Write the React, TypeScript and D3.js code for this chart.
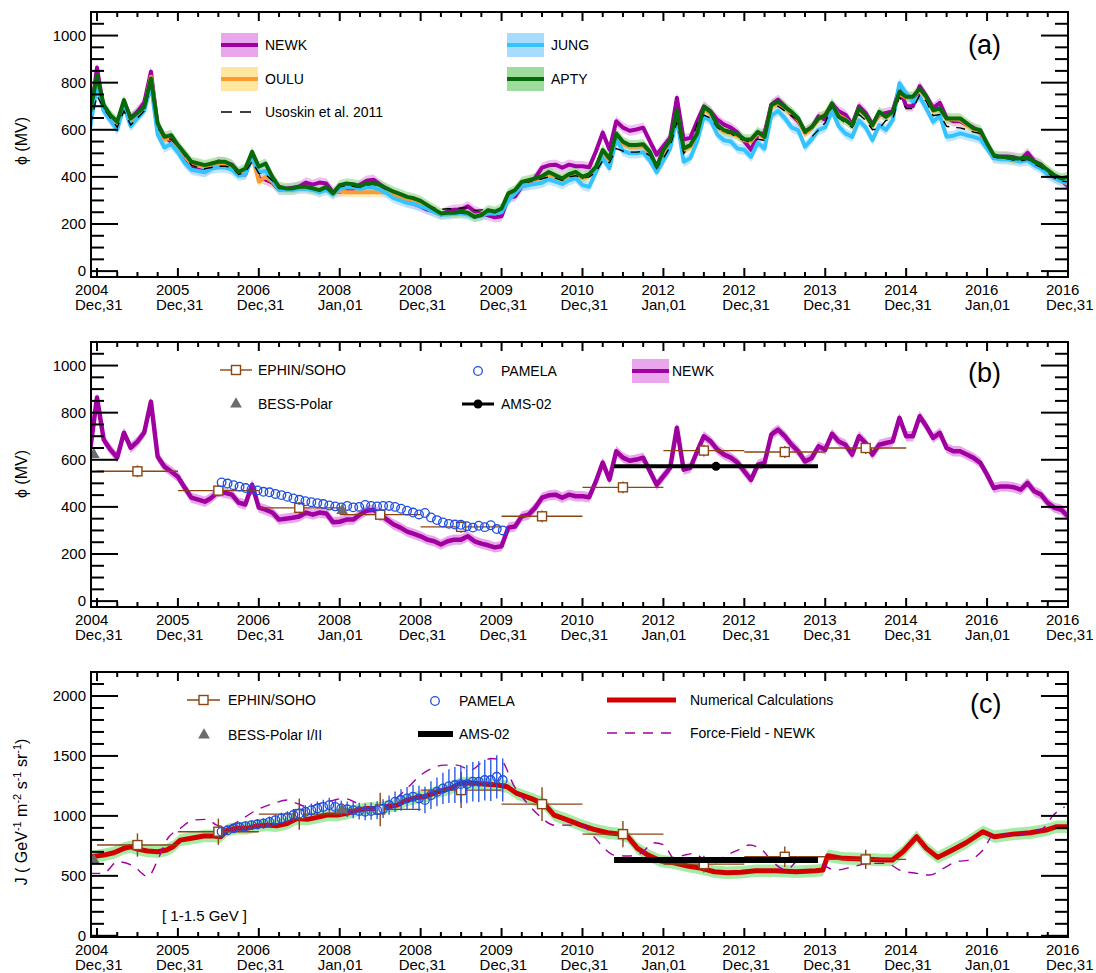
import React from "react";
import * as d3 from "d3";

const W = 1096;
const H = 973;
const LEFT = 91;
const RIGHT = 1068;
const PH = 265;
const FONT = "'Liberation Sans', Arial, Helvetica, sans-serif";

// monthly values, Dec 2004 .. Jan 2017
const MONTH0 = 2004 + 11 / 12;
const newk = [
  645, 864, 685, 643, 609, 715, 651, 677, 715, 847, 613, 571,
  550, 528, 482, 439, 431, 422, 439, 465, 460, 452, 418, 410,
  494, 397, 388, 376, 346, 350, 354, 359, 376, 367, 376, 372,
  335, 337, 346, 346, 367, 384, 388, 367, 346, 325, 312, 295,
  285, 275, 261, 254, 240, 254, 261, 261, 275, 254, 244, 237,
  228, 233, 312, 317, 360, 367, 397, 439, 449, 452, 439, 452,
  445, 445, 441, 509, 588, 516, 636, 609, 596, 601, 609, 551,
  494, 530, 566, 736, 558, 566, 636, 700, 678, 643, 622, 609,
  588, 551, 515, 579, 587, 707, 728, 700, 664, 636, 593, 608,
  657, 643, 710, 678, 664, 622, 700, 671, 622, 664, 671, 678,
  778, 700, 700, 785, 742, 693, 714, 650, 636, 636, 622, 608,
  587, 537, 480, 487, 487, 483, 473, 502, 466, 452, 417, 396,
  388, 360,
];
const apty = [
  676, 832, 705, 662, 634, 726, 648, 672, 697, 818, 627, 570,
  577, 535, 500, 464, 457, 450, 457, 464, 464, 450, 421, 436,
  506, 443, 457, 400, 358, 351, 351, 358, 358, 351, 344, 358,
  330, 365, 372, 369, 361, 372, 375, 365, 351, 337, 327, 315,
  309, 298, 280, 262, 245, 248, 248, 252, 248, 230, 238, 259,
  252, 266, 330, 344, 379, 386, 393, 403, 421, 407, 393, 412,
  421, 400, 412, 443, 514, 478, 584, 549, 535, 535, 539, 506,
  443, 514, 556, 683, 521, 535, 584, 697, 676, 620, 598, 591,
  580, 560, 559, 591, 570, 705, 719, 697, 676, 648, 591, 612,
  648, 662, 712, 655, 641, 620, 691, 662, 620, 676, 655, 676,
  761, 740, 740, 775, 740, 683, 691, 648, 648, 648, 627, 606,
  598, 542, 492, 485, 483, 478, 478, 485, 464, 450, 429, 407,
  393, 400,
];
const jung = [
  610, 790, 680, 640, 600, 700, 615, 650, 680, 790, 580, 525,
  540, 505, 460, 430, 425, 420, 435, 440, 440, 430, 405, 410,
  480, 420, 425, 385, 345, 345, 345, 350, 350, 345, 335, 345,
  325, 350, 355, 355, 350, 355, 355, 345, 330, 310, 300, 290,
  285, 275, 265, 250, 240, 240, 245, 245, 240, 230, 235, 245,
  245, 250, 300, 330, 360, 365, 370, 375, 390, 380, 370, 385,
  395, 365, 358, 420, 480, 437, 560, 510, 500, 500, 505, 470,
  420, 470, 520, 650, 464, 480, 550, 655, 640, 580, 555, 550,
  520, 515, 485, 545, 520, 660, 680, 650, 610, 598, 528, 560,
  600, 610, 680, 615, 584, 570, 640, 610, 556, 620, 600, 640,
  797, 754, 720, 740, 690, 634, 660, 570, 575, 585, 577, 570,
  560, 520, 480, 475, 475, 470, 465, 470, 450, 435, 410, 395,
  380, 375,
];
const oulu = [
  650, 815, 695, 655, 625, 715, 640, 665, 690, 825, 615, 560,
  565, 525, 490, 455, 450, 445, 450, 455, 455, 445, 415, 430,
  490, 380, 400, 380, 350, 345, 345, 350, 352, 345, 340, 350,
  330, 340, 335, 335, 335, 335, 335, 335, 335, 325, 315, 305,
  300, 290, 275, 260, 245, 245, 245, 248, 245, 235, 240, 250,
  245, 255, 320, 340, 375, 380, 388, 398, 412, 400, 388, 405,
  412, 395, 405, 435, 505, 470, 575, 540, 528, 528, 530, 500,
  440, 505, 550, 675, 515, 528, 578, 690, 668, 612, 592, 585,
  575, 555, 552, 585, 565, 700, 712, 690, 670, 642, 585, 608,
  645, 668, 705, 660, 645, 618, 685, 660, 615, 670, 655, 670,
  755, 735, 738, 770, 735, 680, 688, 645, 645, 642, 622, 600,
  592, 535, 488, 480, 478, 472, 470, 478, 458, 445, 422, 400,
  385, 370,
];
const usoskin = [
  620, 745, 690, 650, 610, 680, 620, 650, 680, 790, 610, 565,
  560, 530, 490, 450, 440, 435, 440, 445, 445, 440, 410, 420,
  465, 415, 410, 385, 350, 350, 352, 355, 355, 348, 340, 352,
  330, 358, 362, 360, 355, 365, 368, 360, 348, 335, 325, 315,
  305, 295, 280, 268, 262, 265, 265, 268, 270, 258, 260, 262,
  255, 262, 320, 345, 375, 378, 385, 392, 400, 395, 385, 400,
  405, 395, 400, 420, 470, 460, 520, 510, 505, 505, 508, 490,
  436, 480, 528, 634, 500, 528, 627, 662, 650, 610, 590, 585,
  565, 555, 548, 560, 555, 690, 700, 680, 660, 640, 590, 570,
  600, 630, 700, 650, 630, 610, 665, 640, 600, 605, 640, 645,
  740, 690, 690, 747, 720, 660, 665, 615, 610, 608, 600, 590,
  585, 535, 485, 478, 478, 470, 468, 475, 455, 440, 418, 395,
  382, 380,
];
const months = newk.map((_, i) => MONTH0 + i / 12);

// EPHIN/SOHO yearly points
const ephinT = [2005.5, 2006.5, 2007.5, 2008.5, 2009.5, 2010.5, 2011.5, 2012.5, 2013.5, 2014.5];
const ephinPhi = [551, 469, 396, 367, 315, 360, 483, 639, 633, 650];
const ephinJ = [757, 868, 1015, 1054, 1215, 1098, 848, 598, 659, 637];
const ephinJErr = [97, 110, 130, 140, 150, 140, 110, 70, 85, 80];

// PAMELA, one point per Bartels rotation
const PAMELA_START = 2006.54;
const BARTELS = 27 / 365.25;
const pamelaPhi = [
  504, 499, 492, 486, 480, 474, 470, 464, 462, 455,
  450, 443, 436, 430, 424, 420, 416, 412, 406, 402,
  398, 404, 398, 400, 408, 404, 402, 404, 404, 400,
  392, 384, 376, 368, 374, 355, 344, 334, 328, 325,
  324, 318, 312, 320, 314, 322, 306, 300,
];
const pamelaJ = [
  868, 880, 896, 905, 915, 923, 930, 937, 950, 965,
  979, 990, 1007, 1020, 1034, 1048, 1062, 1075, 1090, 1075,
  1062, 1055, 1048, 1040, 1034, 1040, 1048, 1060, 1090, 1118,
  1132, 1146, 1160, 1146, 1132, 1173, 1201, 1229, 1248, 1257,
  1265, 1265, 1285, 1285, 1299, 1299, 1326, 1299,
];
const pamelaJErr = [
  35, 35, 38, 38, 40, 40, 42, 42, 45, 45,
  48, 48, 50, 52, 55, 55, 58, 60, 62, 62,
  65, 65, 68, 70, 70, 72, 75, 78, 80, 85,
  90, 95, 100, 105, 110, 115, 120, 130, 140, 150,
  155, 160, 165, 170, 170, 175, 180, 180,
];
const pamelaT = pamelaPhi.map((_, k) => PAMELA_START + k * BARTELS);

const bessT = [2004.96, 2008.03];
const bessPhi = [622, 384];
const bessJ = [632, 1048];

const amsFrom = 2011.39;
const amsTo = 2013.91;
const amsT = 2012.65;
const amsPhi = 572;
const amsJ = 632;

// panel (c) curves
const calcT = [
  2004.917, 2005.083, 2005.208, 2005.333, 2005.417, 2005.5, 2005.625, 2005.75, 2005.86, 2005.94,
  2006.03, 2006.15, 2006.32, 2006.44, 2006.53, 2006.61, 2006.72, 2006.85, 2006.97,
  2007.1, 2007.22, 2007.35, 2007.47, 2007.6, 2007.72, 2007.84, 2007.97,
  2008.09, 2008.22, 2008.34, 2008.46, 2008.58, 2008.71, 2008.83, 2008.96,
  2009.04, 2009.21, 2009.37, 2009.49, 2009.62, 2009.78, 2009.95,
  2010.07, 2010.19, 2010.36, 2010.53, 2010.65, 2010.82, 2010.98,
  2011.14, 2011.31, 2011.47, 2011.56, 2011.68, 2011.81, 2011.97,
  2012.13, 2012.3, 2012.47, 2012.63, 2012.79, 2012.96,
  2013.14, 2013.39, 2013.64, 2013.88, 2013.97,
  2014.03, 2014.22, 2014.47, 2014.71, 2014.83, 2014.96,
  2015.13, 2015.25, 2015.39, 2015.53, 2015.74, 2015.95,
  2016.09, 2016.32, 2016.53, 2016.73, 2016.86, 2017.0,
];
const calcJ = [
  659, 673, 693, 729, 743, 723, 707, 701, 715, 743,
  798, 812, 832, 832, 826, 882, 896, 896, 915,
  923, 918, 937, 979, 971, 988, 1007, 1007,
  1021, 1048, 1062, 1062, 1076, 1090, 1132, 1154,
  1159, 1201, 1229, 1271, 1276, 1265, 1257,
  1243, 1187, 1146, 1098, 1007, 965, 923,
  887, 859, 848, 826, 729, 673, 623,
  609, 582, 562, 534, 526, 530,
  543, 543, 534, 543, 548,
  668, 646, 640, 632, 632, 701,
  826, 729, 654, 701, 776, 868,
  826, 848, 859, 882, 910, 910,
];
const ffT = [
  2004.917, 2005.083, 2005.25, 2005.45, 2005.63, 2005.75, 2005.86,
  2006.03, 2006.19, 2006.36, 2006.48, 2006.61, 2006.77, 2006.97,
  2007.18, 2007.35, 2007.47, 2007.6, 2007.76, 2007.93,
  2008.05, 2008.22, 2008.38, 2008.54, 2008.67, 2008.83,
  2009.0, 2009.12, 2009.29, 2009.45, 2009.62, 2009.74, 2009.87, 2009.99,
  2010.16, 2010.32, 2010.48, 2010.65, 2010.82, 2010.98,
  2011.14, 2011.27, 2011.39, 2011.56, 2011.72, 2011.88,
  2012.01, 2012.13, 2012.26, 2012.38, 2012.51, 2012.63, 2012.75, 2012.92,
  2013.06, 2013.22, 2013.35, 2013.52, 2013.68, 2013.88,
  2014.01, 2014.13, 2014.34, 2014.55, 2014.76, 2014.92,
  2015.13, 2015.29, 2015.46, 2015.62, 2015.78, 2015.95,
  2016.08, 2016.28, 2016.48, 2016.69, 2016.82, 2016.96,
];
const ffJ = [
  521, 521, 618, 582, 495, 632, 798,
  896, 965, 971, 923, 910, 965, 1048,
  1104, 1132, 1104, 1076, 1104, 1132,
  1146, 1104, 1048, 1076, 1132, 1229,
  1340, 1390, 1423, 1423, 1382, 1437, 1479, 1465,
  1243, 1104, 993, 923, 923, 923,
  826, 729, 673, 665, 687, 776,
  757, 646, 673, 687, 632, 609, 659, 715,
  757, 715, 618, 548, 632, 632,
  576, 548, 576, 604, 604, 548,
  521, 507, 562, 618, 632, 715,
  840, 840, 854, 896, 1007, 1076,
];

const tickYears = d3.range(2005, 2018);
const tickLabels = [
  ["2004", "Dec,31"], ["2005", "Dec,31"], ["2006", "Dec,31"], ["2008", "Jan,01"],
  ["2008", "Dec,31"], ["2009", "Dec,31"], ["2010", "Dec,31"], ["2012", "Jan,01"],
  ["2012", "Dec,31"], ["2013", "Dec,31"], ["2014", "Dec,31"], ["2016", "Jan,01"],
  ["2016", "Dec,31"],
];

const C = {
  newkLine: "#a000a0", newkBand: "#eaa6ec",
  ouluLine: "#ff9a30", ouluBand: "#ffe7a0",
  jungLine: "#33c4ff", jungBand: "#a8dcff",
  aptyLine: "#08690a", aptyBand: "#9edc9e",
  ephin: "#8b4513", pamela: "#1f4fe0", bess: "#6b6b6b",
  calc: "#d20000", calcBand: "#a6eca6", ff: "#a000a0",
};

const TOPS = [12, 342, 672];
const x = d3.scaleLinear().domain([2004.926, 2017]).range([LEFT, RIGHT]);
const yA = d3.scaleLinear().domain([-25, 1100]).range([TOPS[0] + PH, TOPS[0]]);
const yB = d3.scaleLinear().domain([-25, 1100]).range([TOPS[1] + PH, TOPS[1]]);
const yC = d3.scaleLinear().domain([-10, 2200]).range([TOPS[2] + PH, TOPS[2]]);

function linePath(vals: number[], ts: number[], y: any, curve: any = d3.curveLinear) {
  return d3.line<number>().curve(curve).x((_, i) => x(ts[i])).y((d) => y(d))(vals) || "";
}
function bandPath(vals: number[], ts: number[], y: any, hw: number) {
  return d3.area<number>().x((_, i) => x(ts[i])).y0((d) => y(d - hw)).y1((d) => y(d + hw))(vals) || "";
}

function Axes({ top, y, majors, minors }: any) {
  const bottom = top + PH;
  const xMin = d3.range(2005, 2017, 0.25).filter((v) => v % 1 !== 0);
  return (
    <g>
      <g stroke="#000" strokeWidth={2} fill="none">
        {tickYears.map((v) => (
          <g key={"xm" + v}>
            <line x1={x(v)} x2={x(v)} y1={bottom} y2={bottom - 9} />
            <line x1={x(v)} x2={x(v)} y1={top} y2={top + 9} />
          </g>
        ))}
        {xMin.map((v) => (
          <g key={"xn" + v}>
            <line x1={x(v)} x2={x(v)} y1={bottom} y2={bottom - 5} />
            <line x1={x(v)} x2={x(v)} y1={top} y2={top + 5} />
          </g>
        ))}
        {majors.map((v: number) => (
          <g key={"ym" + v}>
            <line x1={LEFT} x2={LEFT + 27} y1={y(v)} y2={y(v)} />
            <line x1={RIGHT} x2={RIGHT - 27} y1={y(v)} y2={y(v)} />
          </g>
        ))}
        {minors.map((v: number) => (
          <g key={"yn" + v}>
            <line x1={LEFT} x2={LEFT + 13} y1={y(v)} y2={y(v)} />
            <line x1={RIGHT} x2={RIGHT - 13} y1={y(v)} y2={y(v)} />
          </g>
        ))}
        <rect x={LEFT} y={top} width={RIGHT - LEFT} height={PH} />
      </g>
      <g fontSize={15} fill="#000">
        {majors.map((v: number) => (
          <text key={"yl" + v} x={86} y={y(v)} dy="0.35em" textAnchor="end">{v}</text>
        ))}
        {tickYears.map((v, k) => (
          <text key={"xl" + v} x={x(v) - 22} y={bottom + 18}>
            <tspan>{tickLabels[k][0]}</tspan>
            <tspan x={x(v) - 22} dy={15}>{tickLabels[k][1]}</tspan>
          </text>
        ))}
      </g>
    </g>
  );
}

const phiMajors = d3.range(0, 1001, 200);
const phiMinors = d3.range(0, 1101, 50).filter((v) => v % 200 !== 0);
const jMajors = d3.range(0, 2001, 500);
const jMinors = d3.range(0, 2201, 100).filter((v) => v % 500 !== 0);

function Swatch({ x0, yc, band, line }: any) {
  return (
    <g>
      <rect x={x0} y={yc - 12} width={37} height={24} fill={band} />
      <line x1={x0} x2={x0 + 37} y1={yc} y2={yc} stroke={line} strokeWidth={4} />
    </g>
  );
}

function Ephin({ y, vals, errs }: any) {
  return (
    <g stroke={C.ephin} strokeWidth={1.4}>
      {ephinT.map((t, k) => (
        <g key={"e" + k}>
          <line x1={x(t - 0.5)} x2={x(t + 0.5)} y1={y(vals[k])} y2={y(vals[k])} />
          <line x1={x(t)} x2={x(t)} y1={y(vals[k] - errs[k])} y2={y(vals[k] + errs[k])} />
          <rect x={x(t) - 4.5} y={y(vals[k]) - 4.5} width={9} height={9} fill="#fff" />
        </g>
      ))}
    </g>
  );
}

const tri = d3.symbol(d3.symbolTriangle, 60)() || "";

function PanelA() {
  const y = yA;
  const series = [
    { name: "NEWK", vals: newk, line: C.newkLine, band: C.newkBand },
    { name: "OULU", vals: oulu, line: C.ouluLine, band: C.ouluBand },
    { name: "JUNG", vals: jung, line: C.jungLine, band: C.jungBand },
  ];
  return (
    <g>
      <g clipPath="url(#clip0)">
        {series.map((s) => (
          <path key={s.name + "b"} d={bandPath(s.vals, months, y, 22)} fill={s.band} opacity={0.7} />
        ))}
        <path d={bandPath(apty, months, y, 22)} fill={C.aptyBand} opacity={0.7} />
        {series.map((s) => (
          <path key={s.name + "l"} d={linePath(s.vals, months, y)} fill="none" stroke={s.line} strokeWidth={4} strokeLinejoin="round" />
        ))}
        <path d={linePath(usoskin, months, y)} fill="none" stroke="#000" strokeWidth={1.4} strokeDasharray="9,7" />
        <path d={linePath(apty, months, y)} fill="none" stroke={C.aptyLine} strokeWidth={4} strokeLinejoin="round" />
      </g>
      <Axes top={TOPS[0]} y={y} majors={phiMajors} minors={phiMinors} />
      <g fontSize={14}>
        <Swatch x0={221} yc={45} band={C.newkBand} line={C.newkLine} />
        <text x={265} y={45} dy="0.35em">NEWK</text>
        <Swatch x0={221} yc={79} band={C.ouluBand} line={C.ouluLine} />
        <text x={265} y={79} dy="0.35em">OULU</text>
        <line x1={221} x2={258} y1={112} y2={112} stroke="#000" strokeWidth={1.4} strokeDasharray="11,8" />
        <text x={265} y={112} dy="0.35em">Usoskin et al. 2011</text>
        <Swatch x0={507} yc={45} band={C.jungBand} line={C.jungLine} />
        <text x={551} y={45} dy="0.35em">JUNG</text>
        <Swatch x0={507} yc={79} band={C.aptyBand} line={C.aptyLine} />
        <text x={551} y={79} dy="0.35em">APTY</text>
      </g>
      <text x={968} y={54} fontSize={27}>(a)</text>
      <text transform={`translate(27,141) rotate(-90)`} textAnchor="middle" fontSize={16}>ϕ (MV)</text>
    </g>
  );
}

function PanelB() {
  const y = yB;
  return (
    <g>
      <g clipPath="url(#clip1)">
        <path d={bandPath(newk, months, y, 22)} fill={C.newkBand} />
        <path d={linePath(newk, months, y)} fill="none" stroke={C.newkLine} strokeWidth={4.5} strokeLinejoin="round" />
        <Ephin y={y} vals={ephinPhi} errs={ephinPhi.map(() => 25)} />
        {pamelaT.map((t, k) => (
          <circle key={"p" + k} cx={x(t)} cy={y(pamelaPhi[k])} r={4.3} fill="none" stroke={C.pamela} strokeWidth={1.3} />
        ))}
        {bessT.map((t, k) => (
          <path key={"b" + k} d={tri} transform={`translate(${x(t)},${y(bessPhi[k])})`} fill={C.bess} />
        ))}
        <line x1={x(amsFrom)} x2={x(amsTo)} y1={y(amsPhi)} y2={y(amsPhi)} stroke="#000" strokeWidth={4} />
        <circle cx={x(amsT)} cy={y(amsPhi)} r={4.5} fill="#000" />
      </g>
      <Axes top={TOPS[1]} y={y} majors={phiMajors} minors={phiMinors} />
      <g fontSize={14}>
        <line x1={220} x2={252} y1={370} y2={370} stroke={C.ephin} strokeWidth={1.4} />
        <rect x={231.5} y={365.5} width={9} height={9} fill="#fff" stroke={C.ephin} strokeWidth={1.4} />
        <text x={258} y={370} dy="0.35em">EPHIN/SOHO</text>
        <path d={tri} transform="translate(236,404)" fill={C.bess} />
        <text x={258} y={404} dy="0.35em">BESS-Polar</text>
        <circle cx={478} cy={371} r={4.3} fill="none" stroke={C.pamela} strokeWidth={1.3} />
        <text x={501} y={371} dy="0.35em">PAMELA</text>
        <line x1={462} x2={494} y1={404} y2={404} stroke="#000" strokeWidth={3} />
        <circle cx={478} cy={404} r={4.5} fill="#000" />
        <text x={501} y={404} dy="0.35em">AMS-02</text>
        <Swatch x0={632} yc={371} band={C.newkBand} line={C.newkLine} />
        <text x={672} y={371} dy="0.35em">NEWK</text>
      </g>
      <text x={968} y={382} fontSize={27}>(b)</text>
      <text transform={`translate(27,474) rotate(-90)`} textAnchor="middle" fontSize={16}>ϕ (MV)</text>
    </g>
  );
}

function PanelC() {
  const y = yC;
  return (
    <g>
      <g clipPath="url(#clip2)">
        <path d={bandPath(calcJ, calcT, y, 52)} fill={C.calcBand} />
        <path d={linePath(calcJ, calcT, y)} fill="none" stroke={C.calc} strokeWidth={5} strokeLinejoin="round" />
        <path d={linePath(ffJ, ffT, y, d3.curveMonotoneX)} fill="none" stroke={C.ff} strokeWidth={1.4} strokeDasharray="10,8" />
        <Ephin y={y} vals={ephinJ} errs={ephinJErr} />
        <g stroke={C.pamela} strokeWidth={1.3} fill="none">
          {pamelaT.map((t, k) => (
            <g key={"pc" + k}>
              <line x1={x(t)} x2={x(t)} y1={y(pamelaJ[k] - pamelaJErr[k])} y2={y(pamelaJ[k] + pamelaJErr[k])} />
              <circle cx={x(t)} cy={y(pamelaJ[k])} r={4.3} />
            </g>
          ))}
        </g>
        {bessT.map((t, k) => (
          <path key={"bc" + k} d={tri} transform={`translate(${x(t)},${y(bessJ[k])})`} fill={C.bess} />
        ))}
        <line x1={x(amsFrom)} x2={x(amsTo)} y1={y(amsJ)} y2={y(amsJ)} stroke="#000" strokeWidth={6} />
      </g>
      <Axes top={TOPS[2]} y={y} majors={jMajors} minors={jMinors} />
      <g fontSize={14}>
        <line x1={187} x2={220} y1={700} y2={700} stroke={C.ephin} strokeWidth={1.4} />
        <rect x={199} y={695.5} width={9} height={9} fill="#fff" stroke={C.ephin} strokeWidth={1.4} />
        <text x={228} y={700} dy="0.35em">EPHIN/SOHO</text>
        <path d={tri} transform="translate(204,735)" fill={C.bess} />
        <text x={228} y={735} dy="0.35em">BESS-Polar I/II</text>
        <circle cx={435} cy={701} r={4.3} fill="none" stroke={C.pamela} strokeWidth={1.3} />
        <text x={459} y={701} dy="0.35em">PAMELA</text>
        <line x1={418} x2={453} y1={734} y2={734} stroke="#000" strokeWidth={6} />
        <text x={459} y={734} dy="0.35em">AMS-02</text>
        <line x1={607} x2={676} y1={700} y2={700} stroke={C.calc} strokeWidth={5} />
        <text x={690} y={700} dy="0.35em">Numerical Calculations</text>
        <line x1={607} x2={676} y1={733} y2={733} stroke={C.ff} strokeWidth={1.4} strokeDasharray="10,8" />
        <text x={690} y={733} dy="0.35em">Force-Field - NEWK</text>
      </g>
      <text x={162} y={921} fontSize={15}>[ 1-1.5 GeV ]</text>
      <text x={970} y={713} fontSize={27}>(c)</text>
      <text transform={`translate(27,812) rotate(-90)`} textAnchor="middle" fontSize={16}>
        J ( GeV<tspan dy={-6} fontSize={11}>-1</tspan>
        <tspan dy={6}> m</tspan><tspan dy={-6} fontSize={11}>-2</tspan>
        <tspan dy={6}> s</tspan><tspan dy={-6} fontSize={11}>-1</tspan>
        <tspan dy={6}> sr</tspan><tspan dy={-6} fontSize={11}>-1</tspan>
        <tspan dy={6}>)</tspan>
      </text>
    </g>
  );
}

export default function App() {
  return (
    <svg
      width={W}
      height={H}
      viewBox={`0 0 ${W} ${H}`}
      fontFamily={FONT}
      style={{ position: "absolute", left: 0, top: 0, background: "#fff" }}
    >
      <defs>
        {TOPS.map((t, k) => (
          <clipPath id={"clip" + k} key={k}>
            <rect x={LEFT} y={t} width={RIGHT - LEFT} height={PH} />
          </clipPath>
        ))}
      </defs>
      <PanelA />
      <PanelB />
      <PanelC />
    </svg>
  );
}
